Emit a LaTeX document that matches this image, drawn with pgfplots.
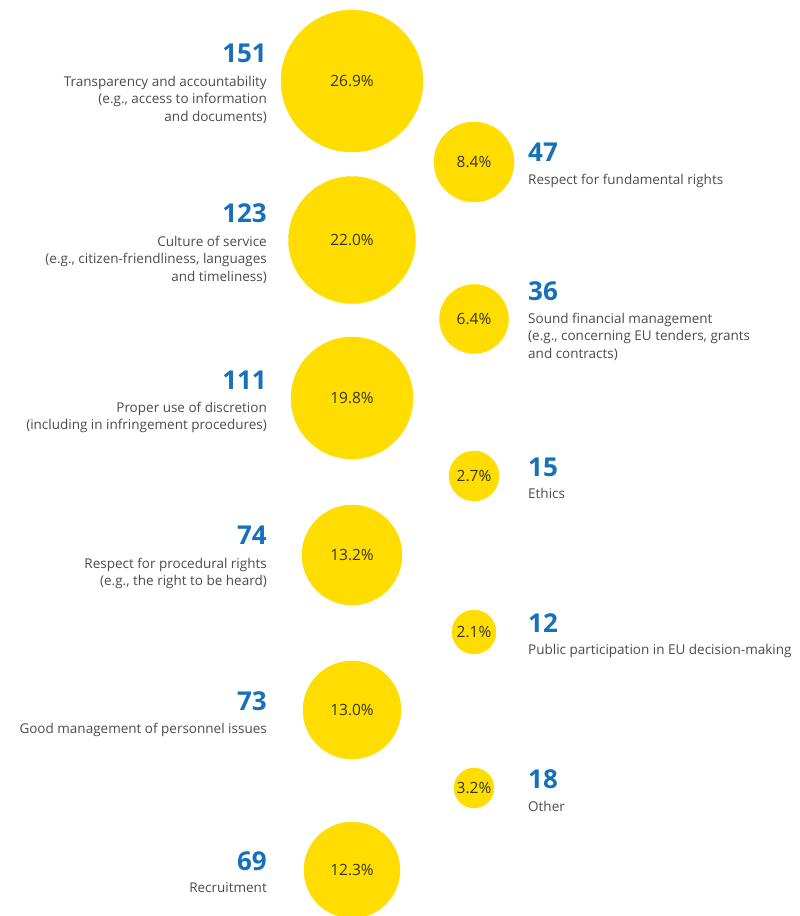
\documentclass[border=0pt]{standalone}
\usepackage{fontspec}
\setmainfont{Open Sans}
\usepackage{pgfplots}
\pgfplotsset{compat=1.18}
\usepackage{pgfplotstable}
\definecolor{eyellow}{RGB}{255,221,0}
\definecolor{eblue}{RGB}{22,112,186}
\definecolor{egray}{RGB}{75,75,75}
\definecolor{pctcol}{RGB}{55,52,28}

\pgfplotstableread{
x   y   r    n   pct
352 81  71   151 26.9
352 240 63.5 123 22.0
352 398 61   111 19.8
352 555 50   74  13.2
352 710 49   73  13.0
352 870 48   69  12.3
474 162 40   47  8.4
474 319 34.5 36  6.4
474 476 25   15  2.7
474 632 22   12  2.1
474 788 20   18  3.2
}\bubbles

\newcommand{\numfont}{\fontsize{26}{30}\selectfont\bfseries\color{eblue}}
\newcommand{\txtfont}{\fontsize{13.5}{17}\selectfont\color{egray}}

\begin{document}
\begin{tikzpicture}
\begin{axis}[
  width=800pt, height=916pt, scale only axis,
  xmin=0, xmax=800, ymin=0, ymax=916, y dir=reverse,
  hide axis, clip=false,
]
\addplot[
  scatter, only marks, mark=*,
  point meta=\thisrow{r},
  scatter/use mapped color={draw=eyellow, fill=eyellow},
  visualization depends on={\thisrow{r} \as \perpointmarksize},
  scatter/@pre marker code/.append style={/tikz/mark size=\perpointmarksize},
] table[x=x, y=y] {\bubbles};
\addplot[
  draw=none, mark=none,
  point meta=explicit symbolic,
  nodes near coords={\pgfplotspointmeta\%},
  every node near coord/.append style={anchor=center, font=\fontsize{15.5}{18}\selectfont, text=pctcol},
] table[x=x, y=y, meta=pct] {\bubbles};

% left labels
\tikzset{L/.style={anchor=base east, inner sep=0pt}, R/.style={anchor=base west, inner sep=0pt}}
\node[L, font=\numfont] at (axis cs:267,62) {151};
\node[L, font=\txtfont] at (axis cs:267,86) {Transparency and accountability};
\node[L, font=\txtfont] at (axis cs:267,103.5) {(e.g., access to information};
\node[L, font=\txtfont] at (axis cs:267,121) {and documents)};

\node[L, font=\numfont] at (axis cs:267,222) {123};
\node[L, font=\txtfont] at (axis cs:267,246) {Culture of service};
\node[L, font=\txtfont] at (axis cs:267,263.5) {(e.g., citizen-friendliness, languages};
\node[L, font=\txtfont] at (axis cs:267,281) {and timeliness)};

\node[L, font=\numfont] at (axis cs:267,389) {111};
\node[L, font=\txtfont] at (axis cs:267,412) {Proper use of discretion};
\node[L, font=\txtfont] at (axis cs:267,429.5) {(including in infringement procedures)};

\node[L, font=\numfont] at (axis cs:267,544) {74};
\node[L, font=\txtfont] at (axis cs:267,568) {Respect for procedural rights};
\node[L, font=\txtfont] at (axis cs:267,585.5) {(e.g., the right to be heard)};

\node[L, font=\numfont] at (axis cs:267,710) {73};
\node[L, font=\txtfont] at (axis cs:267,733) {Good management of personnel issues};

\node[L, font=\numfont] at (axis cs:267,870) {69};
\node[L, font=\txtfont] at (axis cs:267,892) {Recruitment};

% right labels
\node[R, font=\numfont] at (axis cs:528,161) {47};
\node[R, font=\txtfont] at (axis cs:528,184) {Respect for fundamental rights};

\node[R, font=\numfont] at (axis cs:528,300) {36};
\node[R, font=\txtfont] at (axis cs:528,323) {Sound financial management};
\node[R, font=\txtfont] at (axis cs:528,340.5) {(e.g., concerning EU tenders, grants};
\node[R, font=\txtfont] at (axis cs:528,358) {and contracts)};

\node[R, font=\numfont] at (axis cs:528,476) {15};
\node[R, font=\txtfont] at (axis cs:528,498) {Ethics};

\node[R, font=\numfont] at (axis cs:528,632) {12};
\node[R, font=\txtfont] at (axis cs:528,654) {Public participation in EU decision-making};

\node[R, font=\numfont] at (axis cs:528,788) {18};
\node[R, font=\txtfont] at (axis cs:528,811) {Other};
\end{axis}
\pgfresetboundingbox
\path[use as bounding box] (current axis.south west) rectangle (current axis.north east);
\end{tikzpicture}
\end{document}
